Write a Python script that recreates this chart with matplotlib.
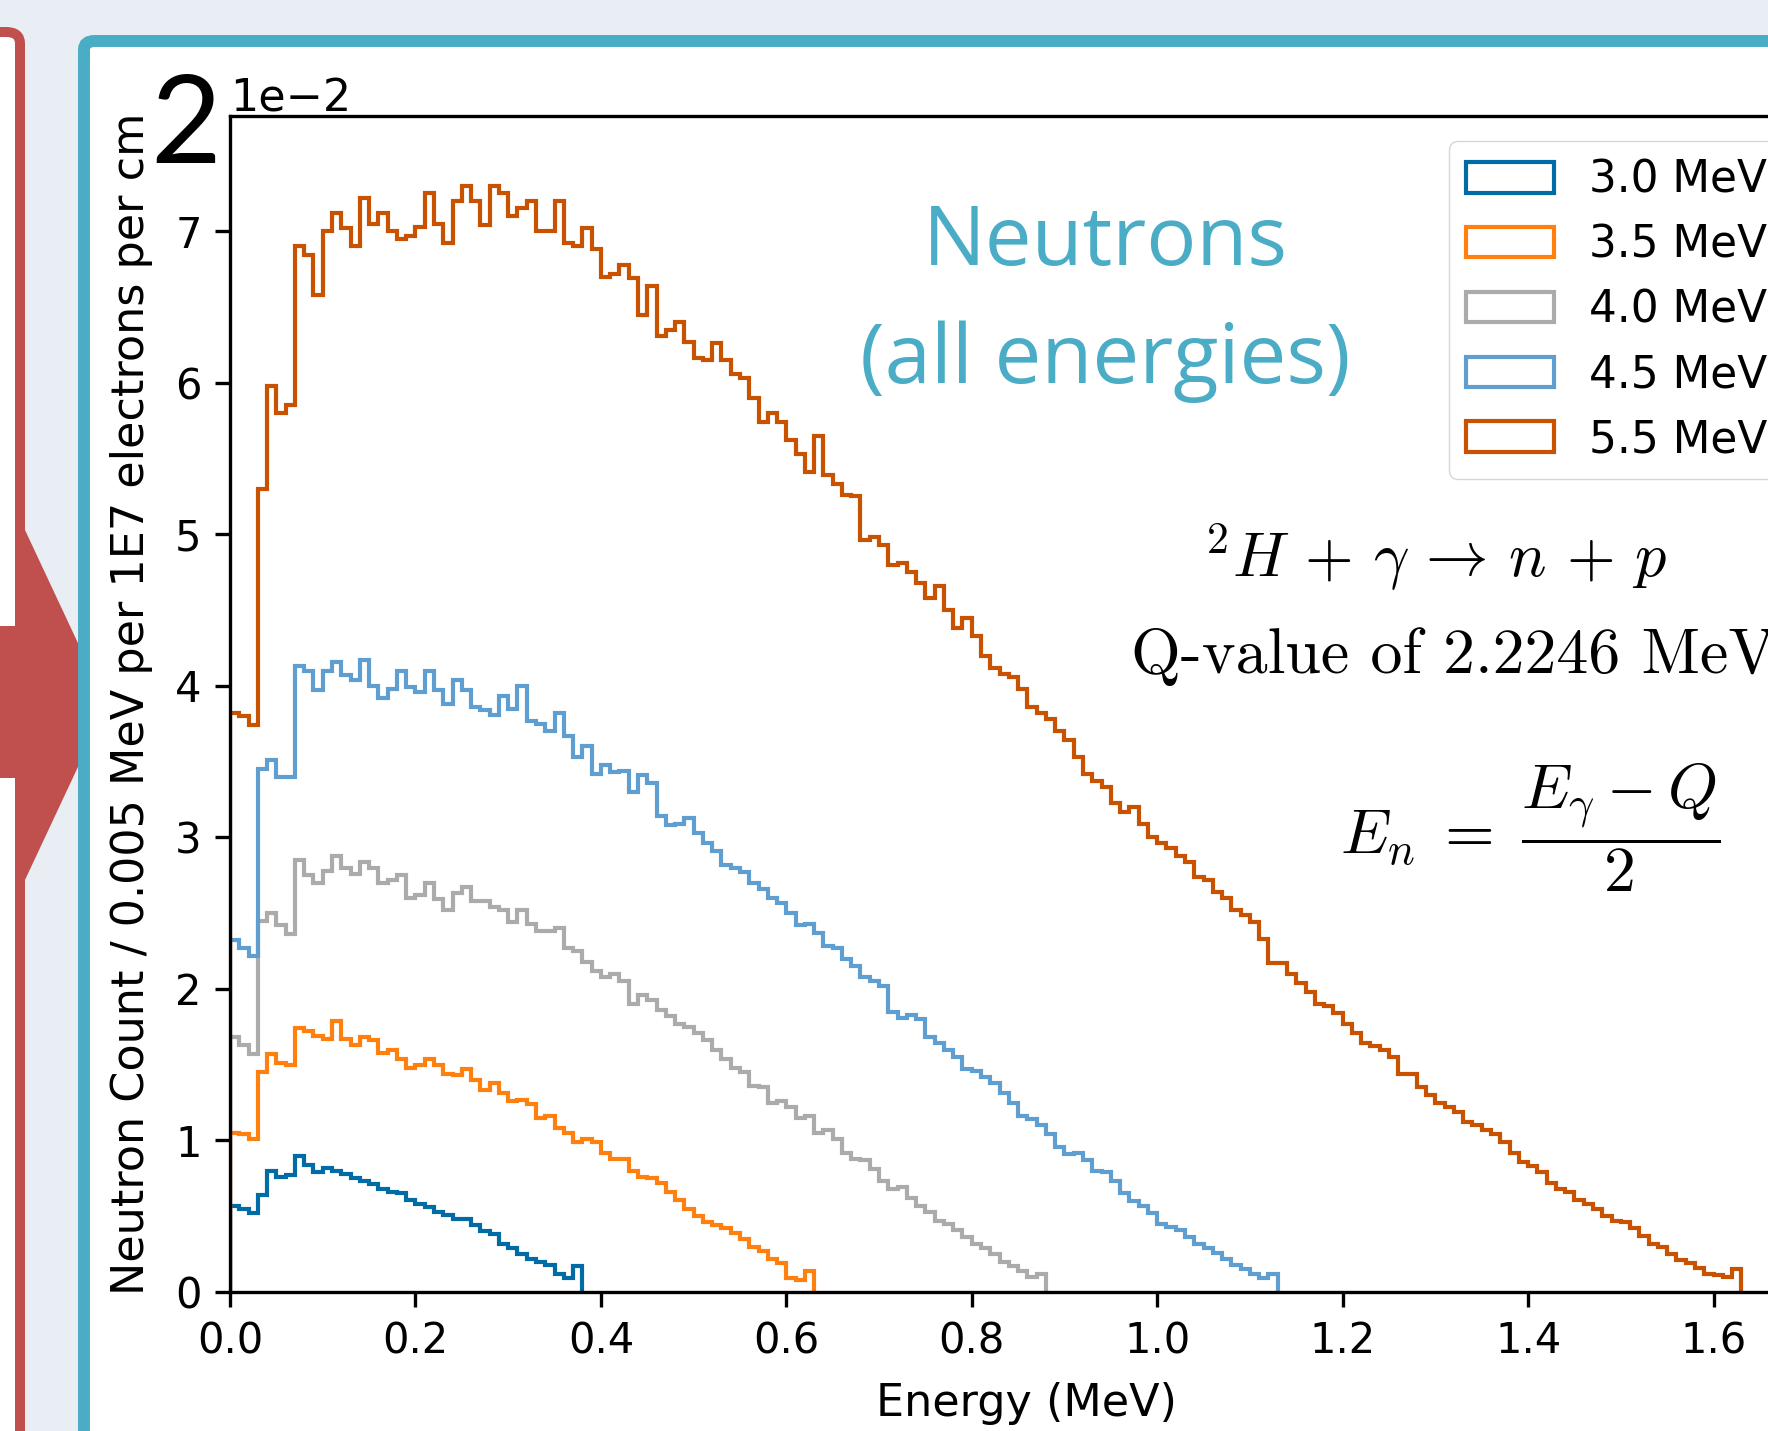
import numpy as np
import matplotlib
matplotlib.use('Agg')
import matplotlib.pyplot as plt
from matplotlib.patches import FancyBboxPatch, Polygon
from matplotlib.ticker import MultipleLocator

# neutron spectra, counts per bin in units of 1e-2, bins of BIN_MEV starting at 0
BIN_MEV = 0.01

counts_30 = [0.57, 0.545, 0.52, 0.64, 0.80, 0.76, 0.77, 0.90, 0.84, 0.79,
             0.82, 0.80, 0.78, 0.75, 0.73, 0.71, 0.68, 0.66, 0.65, 0.61,
             0.58, 0.56, 0.53, 0.51, 0.48, 0.48, 0.44, 0.40, 0.38, 0.32,
             0.29, 0.25, 0.22, 0.20, 0.18, 0.12, 0.09, 0.17]

counts_35 = [1.05, 1.04, 1.01, 1.45, 1.57, 1.51, 1.50, 1.74, 1.72, 1.69,
             1.67, 1.79, 1.67, 1.63, 1.68, 1.66, 1.58, 1.60, 1.54, 1.48,
             1.50, 1.54, 1.50, 1.44, 1.43, 1.47, 1.40, 1.33, 1.38, 1.31,
             1.26, 1.27, 1.24, 1.15, 1.16, 1.08, 1.05, 0.99, 1.01, 0.99,
             0.92, 0.88, 0.88, 0.80, 0.76, 0.75, 0.72, 0.66, 0.61, 0.55,
             0.50, 0.46, 0.44, 0.42, 0.39, 0.35, 0.30, 0.27, 0.22, 0.19,
             0.09, 0.08, 0.14]

counts_40 = [1.68, 1.63, 1.57, 2.45, 2.50, 2.42, 2.36, 2.85, 2.75, 2.70,
             2.78, 2.88, 2.80, 2.76, 2.84, 2.80, 2.70, 2.72, 2.75, 2.60,
             2.62, 2.70, 2.59, 2.52, 2.63, 2.67, 2.58, 2.58, 2.54, 2.52,
             2.44, 2.52, 2.43, 2.38, 2.38, 2.40, 2.27, 2.25, 2.18, 2.12,
             2.08, 2.10, 2.05, 1.90, 1.96, 1.93, 1.86, 1.82, 1.77, 1.75,
             1.71, 1.66, 1.60, 1.54, 1.48, 1.45, 1.36, 1.35, 1.25, 1.26,
             1.22, 1.15, 1.16, 1.05, 1.07, 1.01, 0.92, 0.88, 0.87, 0.81,
             0.73, 0.68, 0.69, 0.62, 0.57, 0.53, 0.47, 0.45, 0.41, 0.36,
             0.32, 0.29, 0.25, 0.20, 0.17, 0.14, 0.10, 0.12]

counts_45 = [2.32, 2.27, 2.22, 3.45, 3.51, 3.40, 3.40, 4.13, 4.10, 3.97,
             4.10, 4.16, 4.07, 4.04, 4.17, 4.00, 3.92, 3.98, 4.10, 3.99,
             3.96, 4.10, 3.97, 3.88, 4.04, 3.97, 3.86, 3.84, 3.81, 3.93,
             3.85, 4.00, 3.77, 3.75, 3.70, 3.82, 3.67, 3.53, 3.60, 3.42,
             3.48, 3.43, 3.44, 3.30, 3.41, 3.36, 3.14, 3.08, 3.09, 3.13,
             3.03, 2.96, 2.91, 2.82, 2.80, 2.77, 2.70, 2.66, 2.60, 2.57,
             2.50, 2.42, 2.43, 2.37, 2.28, 2.27, 2.20, 2.15, 2.08, 2.05,
             2.02, 1.85, 1.81, 1.83, 1.80, 1.68, 1.64, 1.60, 1.55, 1.47,
             1.46, 1.42, 1.38, 1.31, 1.25, 1.16, 1.14, 1.10, 1.04, 0.96,
             0.91, 0.92, 0.87, 0.80, 0.79, 0.73, 0.65, 0.60, 0.57, 0.52,
             0.45, 0.43, 0.41, 0.36, 0.32, 0.29, 0.26, 0.22, 0.18, 0.15,
             0.12, 0.09, 0.12]

counts_55 = [3.82, 3.80, 3.74, 5.30, 5.98, 5.80, 5.85, 6.90, 6.84, 6.58,
             7.00, 7.12, 7.02, 6.90, 7.22, 7.05, 7.12, 7.00, 6.95, 6.97,
             7.03, 7.25, 7.05, 6.92, 7.20, 7.30, 7.20, 7.04, 7.30, 7.25,
             7.10, 7.15, 7.20, 7.00, 7.00, 7.20, 6.92, 6.90, 7.02, 6.88,
             6.70, 6.72, 6.78, 6.69, 6.45, 6.64, 6.31, 6.35, 6.40, 6.27,
             6.16, 6.15, 6.26, 6.15, 6.06, 6.03, 5.90, 5.74, 5.80, 5.74,
             5.62, 5.53, 5.41, 5.65, 5.39, 5.33, 5.26, 5.25, 4.96, 4.98,
             4.93, 4.80, 4.81, 4.75, 4.68, 4.58, 4.66, 4.50, 4.38, 4.45,
             4.33, 4.20, 4.12, 4.08, 4.06, 3.98, 3.86, 3.82, 3.78, 3.70,
             3.64, 3.53, 3.42, 3.37, 3.33, 3.23, 3.17, 3.20, 3.09, 3.00,
             2.96, 2.93, 2.88, 2.84, 2.74, 2.72, 2.64, 2.60, 2.52, 2.49,
             2.44, 2.33, 2.17, 2.17, 2.10, 2.04, 1.98, 1.90, 1.89, 1.84,
             1.77, 1.71, 1.64, 1.62, 1.60, 1.55, 1.44, 1.44, 1.35, 1.30,
             1.25, 1.22, 1.19, 1.12, 1.10, 1.07, 1.04, 0.99, 0.92, 0.86,
             0.83, 0.79, 0.72, 0.68, 0.66, 0.61, 0.58, 0.55, 0.50, 0.47,
             0.46, 0.42, 0.37, 0.32, 0.30, 0.25, 0.21, 0.19, 0.16, 0.12,
             0.11, 0.10, 0.15]

LABELS = ['3.0 MeV', '3.5 MeV', '4.0 MeV', '4.5 MeV', '5.5 MeV']
SERIES = [counts_30, counts_35, counts_40, counts_45, counts_55]
COLORS = ['#006BA4', '#FF800E', '#ABABAB', '#5F9ED1', '#C85200']

W, H = 1768, 1431
TEAL = '#4BACC6'
RED = '#C0504D'

plt.rcParams['mathtext.fontset'] = 'cm'


def fx(px):
    return px / W


def fy(py):
    return 1 - py / H


fig = plt.figure(figsize=(W / 100, H / 100), dpi=100)
fig.patch.set_facecolor('#E9EEF5')

# slide decorations: red panel on the left, teal frame around the plot
red_box = FancyBboxPatch((fx(-300), fy(1700)), fx(320), fy(32) - fy(1700),
                         boxstyle='round,pad=0,rounding_size=0.008',
                         transform=fig.transFigure, facecolor='white',
                         edgecolor=RED, linewidth=7.2, zorder=-5)
fig.add_artist(red_box)

arrow_pts = [(0, 626), (25, 626), (25, 530), (107, 705), (25, 880), (25, 778), (0, 778)]
arrow = Polygon([(fx(x), fy(y)) for x, y in arrow_pts], closed=True,
                transform=fig.transFigure, facecolor=RED, edgecolor='none', zorder=-4)
fig.add_artist(arrow)

teal_box = FancyBboxPatch((fx(84), fy(1700)), fx(2100) - fx(84), fy(41) - fy(1700),
                          boxstyle='round,pad=0,rounding_size=0.006',
                          transform=fig.transFigure, facecolor='white',
                          edgecolor=TEAL, linewidth=8.6, zorder=-3)
fig.add_artist(teal_box)

ax = fig.add_axes([fx(230), fy(1292), (1822 - 230) / W, (1292 - 116) / H])

for vals, lab, col in zip(SERIES, LABELS, COLORS):
    edges = np.round(np.arange(len(vals) + 1) * BIN_MEV, 4)
    ax.hist(edges[:-1], bins=edges, weights=np.array(vals) * 1e-2,
            histtype='step', color=col, linewidth=3.0, label=lab)

ax.set_xlim(0, 1.717)
ax.set_ylim(0, 0.0776)
ax.xaxis.set_major_locator(MultipleLocator(0.2))
ax.yaxis.set_major_locator(MultipleLocator(0.01))
ax.ticklabel_format(axis='y', style='sci', scilimits=(0, 0))
ax.tick_params(labelsize=30, length=10.5, width=2.4, pad=10)
for sp in ax.spines.values():
    sp.set_linewidth(2.4)
ax.yaxis.get_offset_text().set_fontsize(32)
ax.set_xlabel('Energy (MeV)', fontsize=32, labelpad=14)
ax.set_ylabel('Neutron Count / 0.005 MeV per 1E7 electrons per cm', fontsize=32, labelpad=16)
ax.legend(loc='upper left', bbox_to_anchor=(0.7657, 0.9787), borderaxespad=0, fontsize=31.5)

# slide annotations
fig.text(fx(186), fy(163), '2', fontsize=88, family='Lato', ha='center', va='baseline')
fig.text(fx(1105), fy(265), 'Neutrons', fontsize=60, family='Open Sans', color=TEAL,
         ha='center', va='baseline')
fig.text(fx(1105), fy(383), '(all energies)', fontsize=60, family='Open Sans', color=TEAL,
         ha='center', va='baseline')
fig.text(fx(1204), fy(577), r'$^2H\,+\,\gamma\,\rightarrow\,n\,+\,p$', fontsize=45,
         ha='left', va='baseline')
fig.text(fx(1131), fy(673), 'Q-value of 2.2246 MeV', fontsize=46, family='cmr10',
         ha='left', va='baseline')
fig.text(fx(1340), fy(828), r'$E_n\;=\;\dfrac{E_\gamma - Q}{2}$', fontsize=46,
         ha='left', va='center')

fig.savefig('out.png', dpi=100, facecolor=fig.get_facecolor())
